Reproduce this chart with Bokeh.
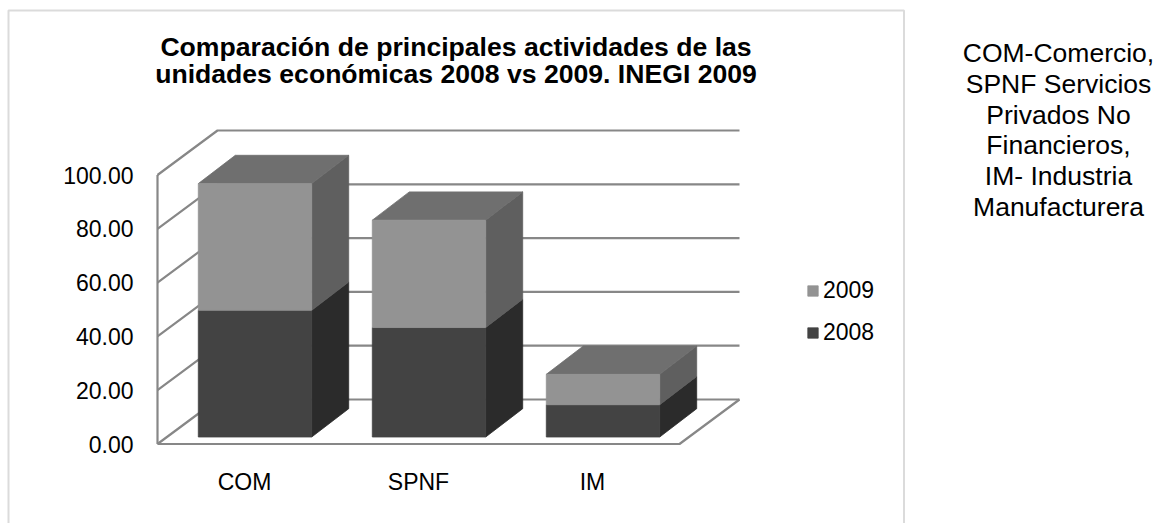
from bokeh.plotting import figure
from bokeh.models import (Range1d, FixedTicker, NumeralTickFormatter, Legend,
                          LegendItem, ColumnDataSource, BoxAnnotation)
from bokeh.embed import file_html
from bokeh.resources import INLINE
from bokeh.core.properties import value

# ---------------- data ----------------
categories = ["COM", "SPNF", "IM"]
v2008 = [47.1, 40.7, 12.0]
v2009 = [47.1, 39.9, 11.3]
y_ticks = [0, 20, 40, 60, 80, 100]
title_lines = ["Comparación de principales actividades de las",
               "unidades económicas 2008 vs 2009. INEGI 2009"]
note_lines = ["COM-Comercio,", "SPNF Servicios", "Privados No",
              "Financieros,", "IM- Industria", "Manufacturera"]

# ---------------- layout constants (page pixels) ----------------
W, H = 1157, 523
ORIG_X, ORIG_Y = 157.0, 443.5   # page position of the front-left floor corner
PPC = 174.0                     # pixels per category slot
PPV = 2.69                      # pixels per value unit

def X(px):
    return (px - ORIG_X) / PPC

def Y(py):
    return (ORIG_Y - py) / PPV

# depth vectors (data units)
WDX, WDY = 60.0 / PPC, 44.5 / PPV     # wall depth
FDX, FDY = 10.5 / PPC, 7.0 / PPV      # bar front-face offset from floor front
BDX, BDY = 37.0 / PPC, 28.3 / PPV     # bar depth
BW = 113.4 / PPC                      # bar width

FONT = "Liberation Sans"
GRID = "#878787"
C_FRONT = {"2008": "#434343", "2009": "#939393"}
C_SIDE = {"2008": "#2b2b2b", "2009": "#5f5f5f"}
C_TOP = "#6f6f6f"

p = figure(width=W, height=H,
           x_range=Range1d(X(0), X(W)),
           y_range=Range1d(Y(H), Y(0)),
           output_backend="svg", toolbar_location=None,
           min_border_left=0, min_border_right=0,
           min_border_top=0, min_border_bottom=0)
p.grid.visible = False
p.outline_line_color = None
p.background_fill_color = "white"
p.border_fill_color = "white"

# ---------------- axes (drawn at the front edges of the 3D box) ----------------
ax = p.yaxis[0]
ax.fixed_location = 0
ax.ticker = FixedTicker(ticks=y_ticks)
ax.formatter = NumeralTickFormatter(format="0.00")
ax.axis_line_color = None
ax.major_tick_line_color = None
ax.minor_tick_line_color = None
ax.major_tick_out = 0
ax.major_tick_in = 0
ax.major_label_standoff = 24
ax.major_label_text_font = FONT
ax.major_label_text_font_size = "23px"
ax.major_label_text_color = "black"

n = len(categories)
xa = p.xaxis[0]
xa.fixed_location = 0
xa.ticker = FixedTicker(ticks=[i + 0.5 for i in range(n)])
xa.major_label_overrides = {i + 0.5: c for i, c in enumerate(categories)}
xa.axis_line_color = None
xa.major_tick_line_color = None
xa.minor_tick_line_color = None
xa.major_tick_out = 0
xa.major_tick_in = 0
xa.major_label_standoff = 25
xa.major_label_text_font = FONT
xa.major_label_text_font_size = "23px"
xa.major_label_text_color = "black"

# ---------------- walls & floor ----------------
top = y_ticks[-1]
xs, ys = [], []
xs.append([0, 0]); ys.append([0, top])                       # left wall front edge
for t in y_ticks:
    xs.append([0, WDX, n + WDX]); ys.append([t, t + WDY, t + WDY])
xs.append([0, n, n + WDX]); ys.append([0, 0, WDY])           # floor front & right edges
p.multi_line(xs, ys, line_color=GRID, line_width=2.2)

# ---------------- 3D stacked bars ----------------
series = [("2008", [0.0] * n, v2008),
          ("2009", list(v2008), v2009)]
front_renderers = {}
side_x, side_y, side_c = [], [], []
top_x, top_y = [], []
for name, base, vals in series:
    for i in range(n):
        cx = i + 0.5 + FDX
        xr = cx + BW / 2
        b = base[i] + FDY
        t = base[i] + vals[i] + FDY
        side_x.append([xr, xr + BDX, xr + BDX, xr])
        side_y.append([b, b + BDY, t + BDY, t])
        side_c.append(C_SIDE[name])
totals = [a + b for a, b in zip(v2008, v2009)]
for i in range(n):
    cx = i + 0.5 + FDX
    xl, xr = cx - BW / 2, cx + BW / 2
    t = totals[i] + FDY
    top_x.append([xl, xl + BDX, xr + BDX, xr])
    top_y.append([t, t + BDY, t + BDY, t])

p.patches(xs="x", ys="y", fill_color="c", line_color="c", line_width=0.8,
          source=ColumnDataSource(dict(x=side_x, y=side_y, c=side_c)))
p.patches(top_x, top_y, fill_color=C_TOP, line_color=C_TOP, line_width=0.8)

for name, base, vals in series:
    src = ColumnDataSource(dict(
        left=[i + 0.5 + FDX - BW / 2 for i in range(n)],
        right=[i + 0.5 + FDX + BW / 2 for i in range(n)],
        bottom=[base[i] + FDY for i in range(n)],
        top=[base[i] + vals[i] + FDY for i in range(n)]))
    front_renderers[name] = p.quad(left="left", right="right", bottom="bottom",
                                   top="top", source=src,
                                   fill_color=C_FRONT[name],
                                   line_color=C_FRONT[name], line_width=0.8)

# ---------------- legend ----------------
legend = Legend(items=[LegendItem(label="2009", renderers=[front_renderers["2009"]]),
                       LegendItem(label="2008", renderers=[front_renderers["2008"]])],
                location=(806, H - 346),
                glyph_width=13, glyph_height=13, label_standoff=4,
                spacing=15, padding=0, margin=0,
                label_text_font=FONT, label_text_font_size="23px",
                label_text_color="black",
                border_line_color=None, background_fill_alpha=0)
p.add_layout(legend)

# ---------------- titles / notes ----------------
p.text(x=[X(455.5)] * 2, y=[Y(46), Y(73.5)], text=title_lines,
       text_font=value(FONT), text_font_size="26.6px", text_font_style="bold",
       text_align="center", text_baseline="alphabetic", text_color="black")
p.text(x=[X(1058)] * len(note_lines),
       y=[Y(52.5 + 30.8 * k) for k in range(len(note_lines))], text=note_lines,
       text_font=value(FONT), text_font_size="26.5px",
       text_align="center", text_baseline="alphabetic", text_color="black")

# ---------------- chart box ----------------
p.add_layout(BoxAnnotation(left=X(8), right=X(903.5), top=Y(10), bottom=Y(700),
                           fill_alpha=0, line_color=GRID, line_width=2))

open("out.html", "w").write(file_html(p, INLINE))
